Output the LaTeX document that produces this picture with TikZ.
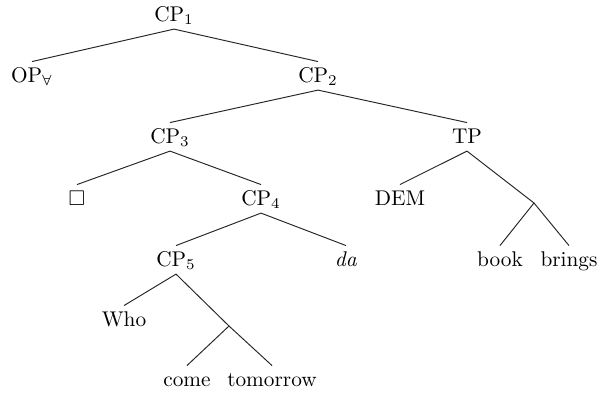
\documentclass[tikz,border=0pt]{standalone}
\usepackage{amssymb}
\begin{document}
\begin{tikzpicture}[x=0.4695pt,y=-0.4695pt,
  lbl/.style={anchor=base,inner sep=1.6pt,text height=7.8pt,text depth=2pt},
  branch/.style={line width=0.45pt,draw=black!85}]
\useasboundingbox (0,0) rectangle (599,392);
% nodes
\node[lbl] (cp1) at (174,21) {CP$_1$};
\node[lbl] (op) at (32,82) {OP$_\forall$};
\node[lbl] (cp2) at (318,82) {CP$_2$};
\node[lbl] (cp3) at (170,143) {CP$_3$};
\node[lbl] (tp) at (467,143) {TP};
\node[lbl] (box) at (77,205) {$\Box$};
\node[lbl] (cp4) at (261,205) {CP$_4$};
\node[lbl] (dem) at (400,205) {DEM};
\node[lbl] (cp5) at (176,266) {CP$_5$};
\node[lbl] (da) at (346,266) {\textit{da}};
\coordinate (e1) at (534,203);
\node[lbl] (book) at (500,266) {book};
\node[lbl] (brings) at (569,266) {brings};
\node[lbl] (who) at (124,326) {Who};
\coordinate (e2) at (229,326);
\node[lbl] (come) at (187,386) {come};
\node[lbl] (tomorrow) at (272,386) {tomorrow};
% edges
\draw[branch] (op.north) -- (cp1.south) -- (cp2.north);
\draw[branch] (cp3.north) -- (cp2.south) -- (tp.north);
\draw[branch] (box.north) -- (cp3.south) -- (cp4.north);
\draw[branch] (dem.north) -- (tp.south) -- (e1);
\draw[branch] (book.north) -- (e1) -- (brings.north);
\draw[branch] (cp5.north) -- (cp4.south) -- (da.north);
\draw[branch] (who.north) -- (cp5.south) -- (e2);
\draw[branch] (come.north) -- (e2) -- (tomorrow.north);
\end{tikzpicture}
\end{document}
